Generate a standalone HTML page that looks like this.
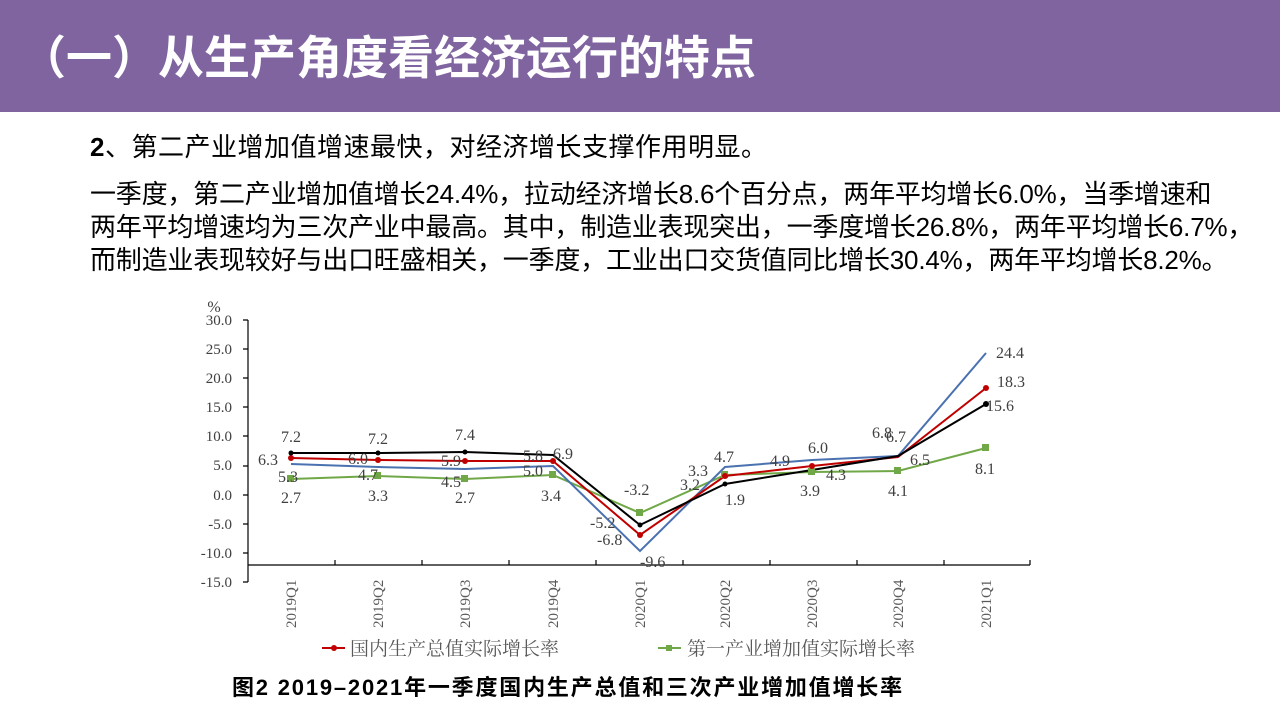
<!DOCTYPE html>
<html><head><meta charset="utf-8"><style>
body{margin:0;width:1280px;height:720px;overflow:hidden;background:#fff;font-family:"Liberation Sans","Noto Sans CJK SC",sans-serif;position:relative}
.ban{position:absolute;left:0;top:0;width:1280px;height:112px;background:#7f64a0}
.ttl{position:absolute;left:20px;top:28px;color:#fff;font-weight:bold;font-size:46px;line-height:60px;white-space:nowrap}
.h2{position:absolute;left:90px;top:131px;font-size:26px;color:#000;line-height:32px;white-space:nowrap;letter-spacing:0.5px}
.p{position:absolute;left:90px;top:178px;font-size:26px;line-height:33px;color:#000;white-space:nowrap;letter-spacing:-0.2px}
.cap{position:absolute;left:232px;top:675px;font-size:22px;font-weight:bold;color:#000;white-space:nowrap;letter-spacing:1.8px;line-height:26px}
</style></head><body>
<div class="ban"></div>
<div class="ttl">（一）从生产角度看经济运行的特点</div>
<div class="h2"><b>2</b>、第二产业增加值增速最快，对经济增长支撑作用明显。</div>
<div class="p">一季度，第二产业增加值增长24.4%，拉动经济增长8.6个百分点，两年平均增长6.0%，当季增速和<br>两年平均增速均为三次产业中最高。其中，制造业表现突出，一季度增长26.8%，两年平均增长6.7%，<br>而制造业表现较好与出口旺盛相关，一季度，工业出口交货值同比增长30.4%，两年平均增长8.2%。</div>
<svg style="position:absolute;left:0;top:0" width="1280" height="720" font-family="Liberation Serif,Noto Serif CJK SC,serif">
<g fill="#404040" font-size="15" text-anchor="end">
<text x="214" y="312" text-anchor="middle" font-size="16">%</text>
<text x="232" y="325">30.0</text><text x="232" y="354">25.0</text><text x="232" y="383">20.0</text><text x="232" y="412">15.0</text><text x="232" y="441">10.0</text><text x="232" y="470">5.0</text><text x="232" y="500">0.0</text><text x="232" y="529">-5.0</text><text x="232" y="558">-10.0</text><text x="232" y="587">-15.0</text>
</g>
<g stroke="#000" stroke-width="1.2" fill="none">
<path d="M248 320V582M243 320H248M243 349H248M243 378H248M243 407H248M243 436H248M243 466H248M243 495H248M243 524H248M243 553H248M243 582H248"/>
<path d="M248 565H1030M335 560V565M422 560V565M509 560V565M596 560V565M683 560V565M770 560V565M857 560V565M944 560V565M1030 560V565"/>
</g>
<g fill="#595959" font-size="15">
<text transform="translate(296,628) rotate(-90)">2019Q1</text>
<text transform="translate(383,628) rotate(-90)">2019Q2</text>
<text transform="translate(470,628) rotate(-90)">2019Q3</text>
<text transform="translate(558,628) rotate(-90)">2019Q4</text>
<text transform="translate(645,628) rotate(-90)">2020Q1</text>
<text transform="translate(730,628) rotate(-90)">2020Q2</text>
<text transform="translate(817,628) rotate(-90)">2020Q3</text>
<text transform="translate(903,628) rotate(-90)">2020Q4</text>
<text transform="translate(991,628) rotate(-90)">2021Q1</text>
</g>
<polyline fill="none" stroke="#70a848" stroke-width="2" points="291,479 378,476 465,479 553,475 640,513 725,475 812,472 898,471 986,448"/>
<polyline fill="none" stroke="#4a72b0" stroke-width="2" points="291,464 378,467 465,469 553,466 640,551 725,467 812,460 898,456 986,353"/>
<polyline fill="none" stroke="#c00000" stroke-width="2" points="291,458 378,460 465,461 553,461 640,535 725,476 812,466 898,457 986,388"/>
<polyline fill="none" stroke="#000" stroke-width="2" points="291,453 378,453 465,452 553,455 640,525 725,484 812,470 898,456 986,404"/>
<g fill="#70a848"><rect x="287" y="475" width="7" height="7"/><rect x="374" y="472" width="7" height="7"/><rect x="461" y="475" width="7" height="7"/><rect x="549" y="471" width="7" height="7"/><rect x="636" y="509" width="7" height="7"/><rect x="721" y="471" width="7" height="7"/><rect x="808" y="468" width="7" height="7"/><rect x="894" y="467" width="7" height="7"/><rect x="982" y="444" width="7" height="7"/></g>
<g fill="#c00000"><circle cx="291" cy="458" r="3"/><circle cx="378" cy="460" r="3"/><circle cx="465" cy="461" r="3"/><circle cx="553" cy="461" r="3"/><circle cx="640" cy="535" r="3"/><circle cx="725" cy="476" r="3"/><circle cx="812" cy="466" r="3"/><circle cx="986" cy="388" r="3"/></g>
<g fill="#000"><circle cx="291" cy="453" r="2.5"/><circle cx="378" cy="453" r="2.5"/><circle cx="465" cy="452" r="2.5"/><circle cx="640" cy="525" r="2.5"/><circle cx="725" cy="484" r="2.5"/><circle cx="986" cy="404" r="3"/></g>
<g fill="#404040" font-size="16">
<text x="281" y="442">7.2</text><text x="368" y="444">7.2</text><text x="455" y="440">7.4</text><text x="523" y="461">5.8</text><text x="553" y="459">6.9</text>
<text x="258" y="465">6.3</text><text x="348" y="464">6.0</text><text x="441" y="466">5.9</text>
<text x="278" y="482">5.3</text><text x="358" y="480">4.7</text><text x="441" y="487">4.5</text><text x="523" y="476">5.0</text>
<text x="281" y="503">2.7</text><text x="368" y="501">3.3</text><text x="455" y="503">2.7</text><text x="541" y="501">3.4</text>
<text x="624" y="495">-3.2</text><text x="590" y="528">-5.2</text><text x="597" y="545">-6.8</text><text x="640" y="567">-9.6</text>
<text x="688" y="476">3.3</text><text x="680" y="490">3.2</text><text x="714" y="462">4.7</text><text x="725" y="505">1.9</text>
<text x="770" y="466">4.9</text><text x="808" y="453">6.0</text><text x="826" y="480">4.3</text><text x="800" y="496">3.9</text>
<text x="872" y="438">6.8</text><text x="886" y="442">6.7</text><text x="910" y="465">6.5</text><text x="888" y="496">4.1</text>
<text x="996" y="358">24.4</text><text x="997" y="387">18.3</text><text x="986" y="411">15.6</text><text x="975" y="474">8.1</text>
</g>
<line x1="322" y1="648" x2="345" y2="648" stroke="#c00000" stroke-width="2"/><circle cx="334" cy="648" r="3" fill="#c00000"/>
<text x="350" y="655" fill="#595959" font-size="19">国内生产总值实际增长率</text>
<line x1="658" y1="648" x2="681" y2="648" stroke="#70a848" stroke-width="2"/><rect x="666" y="645" width="6" height="6" fill="#70a848"/>
<text x="687" y="655" fill="#595959" font-size="19">第一产业增加值实际增长率</text>
</svg>
<div class="cap">图2 2019–2021年一季度国内生产总值和三次产业增加值增长率</div>
</body></html>
